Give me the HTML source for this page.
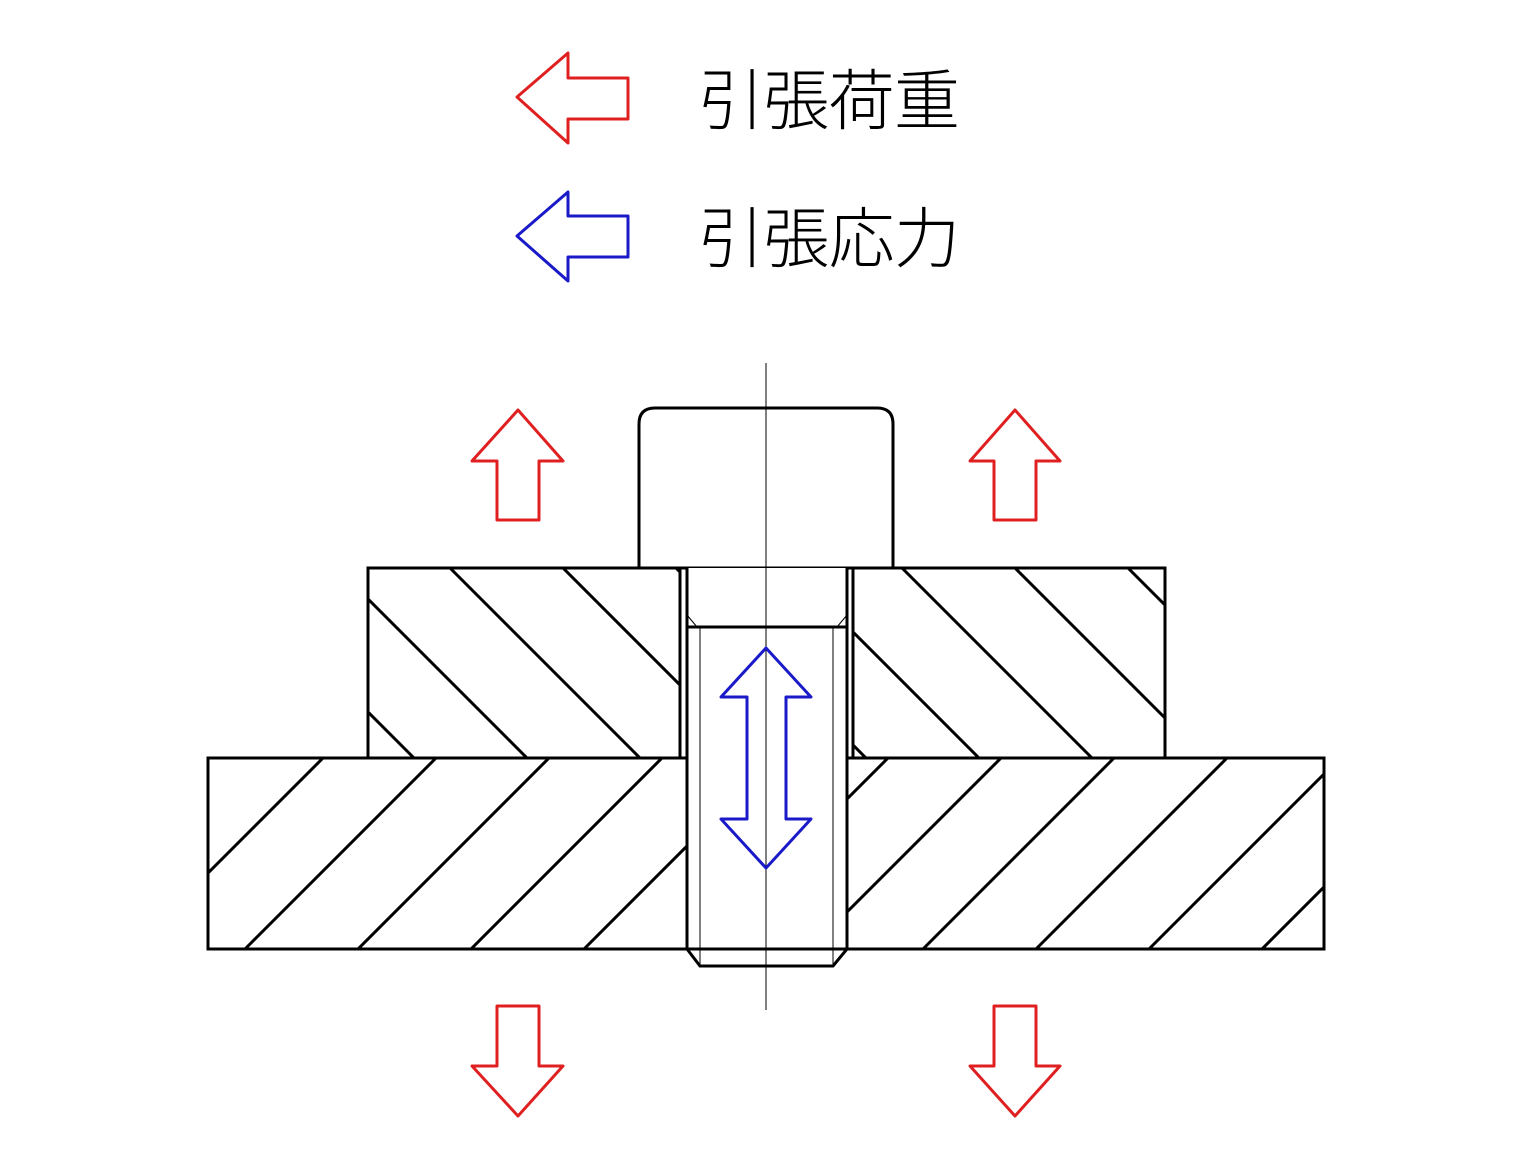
<!DOCTYPE html>
<html><head><meta charset="utf-8"><style>
html,body{margin:0;padding:0;background:#fff;}
svg{display:block;}
text{font-family:"Liberation Sans","Noto Sans CJK JP",sans-serif;}
</style></head><body>
<svg width="1536" height="1152" viewBox="0 0 1536 1152" xmlns="http://www.w3.org/2000/svg">
<defs>
<clipPath id="cu"><rect x="368" y="568" width="312" height="190"/><rect x="853" y="568" width="312" height="190"/></clipPath>
<clipPath id="cl"><rect x="208" y="758" width="479" height="191"/><rect x="847" y="758" width="477" height="191"/></clipPath>
</defs>
<rect width="1536" height="1152" fill="#fff"/>
<polygon points="517,97 568,53 568,78 628,78 628,119 568,119 568,143" fill="none" stroke="#e02020" stroke-width="3" stroke-linejoin="round"/>
<polygon points="517,236 568,192 568,216 628,216 628,257 568,257 568,281" fill="none" stroke="#1a1ac8" stroke-width="3" stroke-linejoin="round"/>
<text x="698" y="124" font-size="66" textLength="262" lengthAdjust="spacing" fill="#000" font-weight="300">引張荷重</text>
<text x="698" y="262" font-size="66" textLength="262" lengthAdjust="spacing" fill="#000" font-weight="300">引張応力</text>
<g stroke="#000" stroke-width="3" clip-path="url(#cu)">
<line x1="-2" y1="568" x2="188" y2="758"/>
<line x1="111" y1="568" x2="301" y2="758"/>
<line x1="224" y1="568" x2="414" y2="758"/>
<line x1="337" y1="568" x2="527" y2="758"/>
<line x1="450" y1="568" x2="640" y2="758"/>
<line x1="563" y1="568" x2="753" y2="758"/>
<line x1="676" y1="568" x2="866" y2="758"/>
<line x1="789" y1="568" x2="979" y2="758"/>
<line x1="902" y1="568" x2="1092" y2="758"/>
<line x1="1015" y1="568" x2="1205" y2="758"/>
<line x1="1128" y1="568" x2="1318" y2="758"/>
</g>
<g stroke="#000" stroke-width="3" clip-path="url(#cl)">
<line x1="323" y1="758" x2="132" y2="949"/>
<line x1="436" y1="758" x2="245" y2="949"/>
<line x1="549" y1="758" x2="358" y2="949"/>
<line x1="662" y1="758" x2="471" y2="949"/>
<line x1="775" y1="758" x2="584" y2="949"/>
<line x1="888" y1="758" x2="697" y2="949"/>
<line x1="1001" y1="758" x2="810" y2="949"/>
<line x1="1114" y1="758" x2="923" y2="949"/>
<line x1="1227" y1="758" x2="1036" y2="949"/>
<line x1="1340" y1="758" x2="1149" y2="949"/>
<line x1="1453" y1="758" x2="1262" y2="949"/>
</g>
<g fill="none" stroke="#000" stroke-width="3">
<rect x="368" y="568" width="797" height="190"/>
<rect x="208" y="758" width="1116" height="191"/>
<path d="M639,568 V424 Q639,408 655,408 H877 Q893,408 893,424 V568"/>
<line x1="680" y1="568" x2="680" y2="758"/>
<line x1="853" y1="568" x2="853" y2="758"/>
</g>
<rect x="687" y="568" width="160" height="381" fill="#fff" stroke="none"/>
<g fill="none" stroke="#000" stroke-width="3">
<line x1="687" y1="568" x2="687" y2="949"/>
<line x1="847" y1="568" x2="847" y2="949"/>
<line x1="687" y1="627" x2="847" y2="627"/>
<line x1="687" y1="949" x2="847" y2="949"/>
<path d="M687,949 L700,966 H833 L847,949"/>
</g>
<g stroke="#000" stroke-width="1">
<line x1="700" y1="627" x2="700" y2="966"/>
<line x1="833" y1="627" x2="833" y2="966"/>
<line x1="687" y1="615" x2="697" y2="627"/>
<line x1="847" y1="615" x2="837" y2="627"/>
<line x1="766" y1="363" x2="766" y2="1010"/>
</g>
<polygon points="766,648 811,697 786,697 786,819 811,819 766,868 721,819 747,819 747,697 721,697" fill="none" stroke="#1a1ac8" stroke-width="3" stroke-linejoin="round"/>
<g fill="none" stroke="#e02020" stroke-width="3" stroke-linejoin="round">
<polygon points="518,410 563,461 539,461 539,520 497,520 497,461 472,461"/>
<polygon points="1015,410 1060,461 1036,461 1036,520 994,520 994,461 970,461"/>
<polygon points="518,1116 563,1066 539,1066 539,1006 497,1006 497,1066 472,1066"/>
<polygon points="1015,1116 1060,1066 1036,1066 1036,1006 994,1006 994,1066 970,1066"/>
</g>
</svg>
</body></html>
